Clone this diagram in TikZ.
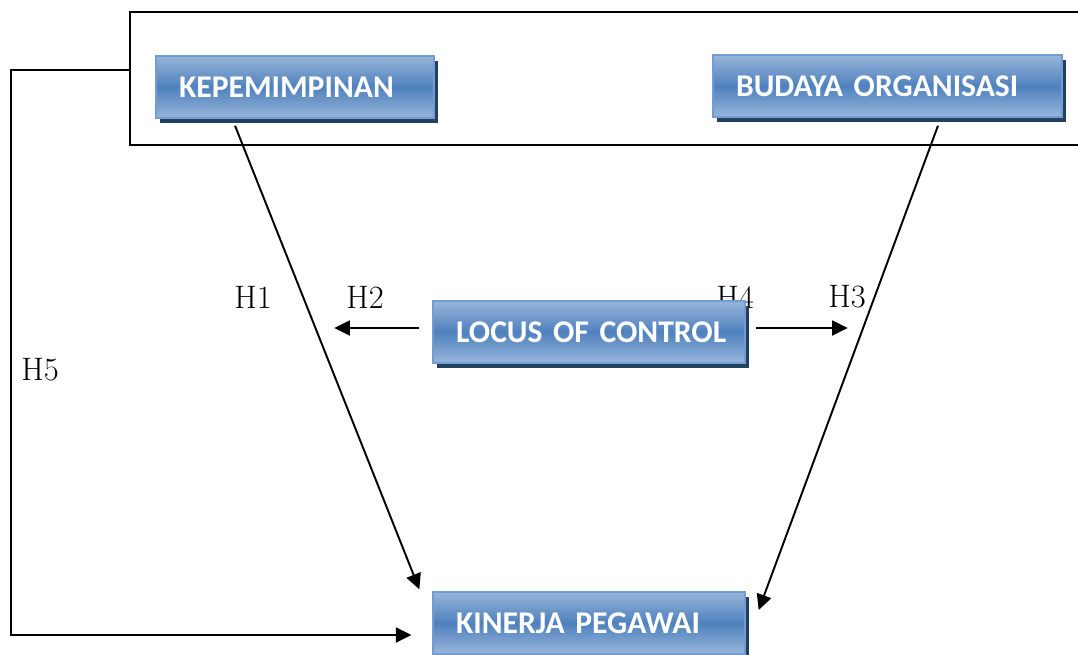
\documentclass[tikz,border=0pt]{standalone}
\usepackage{fontspec}
\newfontfamily\boxfont{Carlito}
\usepackage{tikz}
\usetikzlibrary{positioning}
\usetikzlibrary{shadows}
\usetikzlibrary{arrows.meta}
\usepackage{xcolor}
\definecolor{boxmid}{HTML}{4F81BD}
\definecolor{boxlight}{HTML}{98B5DA}
\definecolor{boxedge}{HTML}{739DD2}
\definecolor{boxshade}{HTML}{24405F}

\begin{document}
\begin{tikzpicture}[x=0.02cm, y=-0.02cm,
varnode/.style={rectangle, draw=boxedge, line width=0.8pt, top color=boxlight, bottom color=boxlight, middle color=boxmid, minimum height=1.24cm, inner xsep=0.46cm, text width=#1, align=left, text=white, font=\boxfont\bfseries\fontsize{18}{21}\selectfont, drop shadow={shadow xshift=0.08cm, shadow yshift=-0.09cm, fill=boxshade, opacity=1}},
framenode/.style={rectangle, draw=black, line width=1.1pt, minimum width=19.4cm, minimum height=2.66cm},
hlabel/.style={font=\fontsize{18.5}{21}\selectfont},
arr/.style={-{Triangle[length=0.31cm, width=0.3cm]}, line width=1.1pt}]
\useasboundingbox (0,0) rectangle (1078,654);

\node[framenode] (grp) at (615,78.5) {};

\node[hlabel] (h1) at (253,297) {H1};
\node[hlabel] (h2) at (365,297) {H2};
\node[hlabel] (h4) at (735,297) {H4};
\node[hlabel] (h3) at (847,297) {H3};
\node[hlabel] (h5) at (40,370) {H5};

\node[varnode=4.64cm] (kep) at (295,87) {KEPEMIMPINAN};
\node[varnode=6.06cm] (bud) at (887.5,86) {BUDAYA ORGANISASI};
\node[varnode=5.32cm] (loc) at (589,332) {\mbox{LOCUS OF CONTROL}};
\node[varnode=5.32cm] (kin) at (589,623) {KINERJA PEGAWAI};

\coordinate (h5end) at ([xshift=-0.42cm, yshift=-0.24cm]kin.west);

\draw[arr] ([xshift=-1.2cm, yshift=-0.14cm]kep.south) -- ([xshift=-0.26cm, yshift=0.04cm]kin.north west);
\draw[arr] ([xshift=1.01cm, yshift=-0.16cm]bud.south) -- ([xshift=0.26cm, yshift=0.26cm]kin.east);
\draw[arr] ([xshift=-0.26cm, yshift=0.08cm]loc.west) -- ++(-85,0);
\draw[arr] ([xshift=0.2cm, yshift=0.08cm]loc.east) -- ++(92,0);
\draw[arr] ([yshift=0.17cm]grp.west) -- ++(-118,0) |- (h5end);
\end{tikzpicture}
\end{document}
